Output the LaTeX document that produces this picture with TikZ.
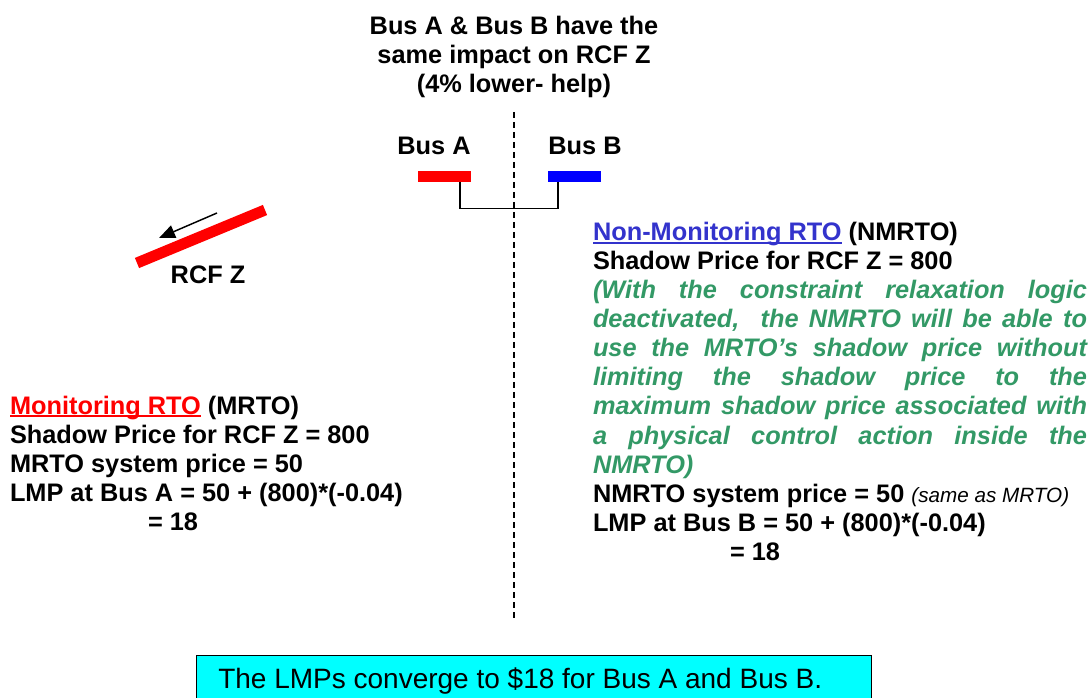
\documentclass[tikz,border=0pt]{standalone}
\usepackage{fontspec}
\setmainfont{Liberation Sans}
\usetikzlibrary{arrows.meta}

\definecolor{mrtored}{RGB}{255,0,0}
\definecolor{busblue}{RGB}{0,0,255}
\definecolor{linkblue}{RGB}{51,51,204}
\definecolor{notegreen}{RGB}{51,153,102}
\definecolor{calloutcyan}{RGB}{0,255,255}

% underline drawn close to the baseline, in the current colour
\newcommand\ulrule[1]{\setbox0\hbox{#1}\rlap{\rule[-2.6pt]{\wd0}{1.5pt}}\box0}

\begin{document}
\begin{tikzpicture}[x=0.75pt,y=-0.75pt,
  txt/.style={inner sep=0pt, outer sep=0pt, font=\bfseries\fontsize{19pt}{21.75pt}\selectfont},
  ln/.style={txt, anchor=base west},
  ctr/.style={txt, anchor=base},
  note/.style={ln, text=notegreen, font=\bfseries\itshape\fontsize{19pt}{21.75pt}\selectfont},
  bar/.style={inner sep=0pt, outer sep=0pt, minimum width=39.75pt, minimum height=8.25pt},
  wire/.style={line width=1.1pt, black},
  divider/.style={line width=1.1pt, dash pattern=on 4.5pt off 3pt}]

\useasboundingbox (0,0) rectangle (1092,698);
\clip (0,0) rectangle (1092,698);

% heading
\node[ctr] (t1) at (514,35) {Bus A \& Bus B have the};
\node[ctr] (t2) at (514,64) {same impact on RCF Z};
\node[ctr] (t3) at (514,93) {(4\% lower- help)};

% divider between the two RTOs
\coordinate (d1) at (514,112);
\coordinate (d2) at (514,620);
\draw[divider] (d1) -- (d2);

% buses
\node[ctr] (labA) at (434,155) {Bus A};
\node[ctr] (labB) at (585,155) {Bus B};
\node[bar, fill=mrtored] (barA) at (444.5,177) {};
\node[bar, fill=busblue] (barB) at (574,177) {};
\draw[wire] ([xshift=11.6pt]barA.south) -- ++(0,26) -| ([xshift=-12pt]barB.south);

% flowgate RCF Z
\coordinate (rcf1) at (137,263);
\coordinate (rcf2) at (265,210);
\draw[mrtored, line width=8.25pt] (rcf1) -- (rcf2);
\coordinate (a1) at (217,213);
\coordinate (a2) at (159,238);
\draw[wire, -{Triangle[length=12pt,width=10pt]}] (a1) -- (a2);
\node[ctr] (rcflab) at (208,284) {RCF Z};

% monitoring RTO
\node[ln] (m1) at (10,414) {\textcolor{mrtored}{\ulrule{Monitoring RTO}} (MRTO)};
\node[ln] (m2) at (10,443) {Shadow Price for RCF Z = 800};
\node[ln] (m3) at (10,472) {MRTO system price = 50};
\node[ln] (m4) at (10,501) {LMP at Bus A = 50 + (800)*(-0.04)};
\node[ln] (m5) at (148,530) {= 18};

% non-monitoring RTO
\node[ln] (n1) at (593,241) {\textcolor{linkblue}{\ulrule{Non-Monitoring RTO}} (NMRTO)};
\node[ln] (n2) at (593,270) {Shadow Price for RCF Z = 800};
\node[note] (g1) at (593,299) {\hbox to 370.5pt{(With the constraint relaxation logic}};
\node[note] (g2) at (593,328) {\hbox to 370.5pt{deactivated, \ the NMRTO will be able to}};
\node[note] (g3) at (593,357) {\hbox to 370.5pt{use the MRTO’s shadow price without}};
\node[note] (g4) at (593,386) {\hbox to 370.5pt{limiting the shadow price to the}};
\node[note] (g5) at (593,415) {\hbox to 370.5pt{maximum shadow price associated with}};
\node[note] (g6) at (593,444) {\hbox to 370.5pt{a physical control action inside the}};
\node[note] (g7) at (593,473) {NMRTO)};
\node[ln] (n3) at (593,502) {NMRTO system price = 50 {\mdseries\itshape\fontsize{15.5pt}{18pt}\selectfont (same as MRTO)}};
\node[ln] (n4) at (593,531) {LMP at Bus B = 50 + (800)*(-0.04)};
\node[ln] (n5) at (730,560) {= 18};

% conclusion
\node[draw, line width=0.8pt, fill=calloutcyan, anchor=north west, inner sep=0pt,
      minimum width=506.25pt, minimum height=34.5pt] (callout) at (196,655) {};
\node[inner sep=0pt, anchor=base west, font=\fontsize{21pt}{24pt}\selectfont] (callouttext) at (218,688)
  {The LMPs converge to \$18 for Bus A and Bus B.};

\end{tikzpicture}
\end{document}
